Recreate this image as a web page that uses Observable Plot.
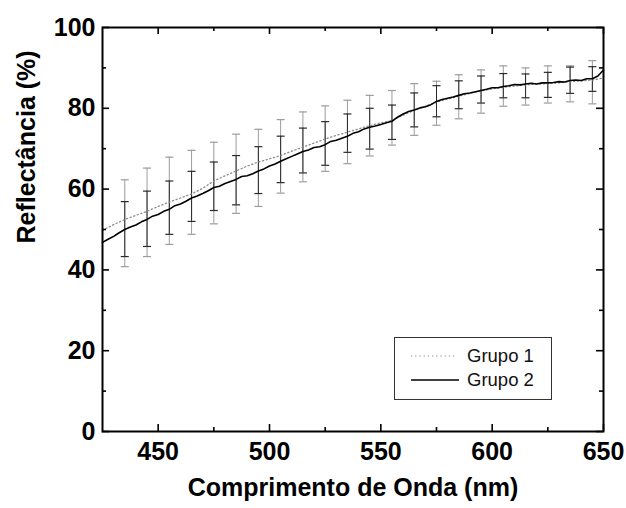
<!DOCTYPE html>
<html>
<head>
<meta charset="utf-8">
<script src="https://cdn.jsdelivr.net/npm/d3@7"></script>
<script src="https://cdn.jsdelivr.net/npm/@observablehq/plot@0.6"></script>
<style>
  html, body { margin: 0; padding: 0; background: #fff; }
  #wrap { position: relative; width: 626px; height: 508px; font-family: "Liberation Sans", Arial, sans-serif; }
  #legend { position: absolute; left: 394px; top: 337px; width: 158px; height: 63px; border: 1px solid #333; background: #fff; box-sizing: border-box; }
  .row { position: absolute; left: 0; height: 20px; display: flex; align-items: center; }
  .row span { font-size: 18.5px; color: #111; line-height: 20px; }
</style>
</head>
<body>
<div id="wrap">
  <div id="chart"></div>
  <div id="legend">
    <div class="row" style="top:8px;"><svg width="72" height="20"><line x1="16" y1="10" x2="62" y2="10" stroke="#8a8a8a" stroke-width="1.2" stroke-dasharray="1.2,3"/></svg><span>Grupo 1</span></div>
    <div class="row" style="top:32px;"><svg width="72" height="20"><line x1="16" y1="10" x2="64" y2="10" stroke="#000" stroke-width="1.4"/></svg><span>Grupo 2</span></div>
  </div>
</div>
<script>
// ---- Data ----
const xTitle = "Comprimento de Onda (nm)";
const yTitle = "Reflectância (%)";
const seriesNames = ["Grupo 1", "Grupo 2"];

const xMajor = [450, 500, 550, 600, 650];
const xMinor = [475, 525, 575, 625];
const yMajor = [0, 20, 40, 60, 80, 100];
const yMinor = [10, 30, 50, 70, 90];

// Grupo 2 (solid) wavelength / reflectance
const g2Wave = [425,427.5,430,432.5,435,437.5,440,442.5,445,447.5,450,452.5,455,457.5,460,462.5,465,467.5,470,472.5,475,477.5,480,482.5,485,487.5,490,492.5,495,497.5,500,502.5,505,507.5,510,512.5,515,517.5,520,522.5,525,527.5,530,532.5,535,537.5,540,542.5,545,547.5,550,552.5,555,557.5,560,562.5,565,567.5,570,572.5,575,577.5,580,582.5,585,587.5,590,592.5,595,597.5,600,602.5,605,607.5,610,612.5,615,617.5,620,622.5,625,627.5,630,632.5,635,637.5,640,642.5,645,647.5,650];
const g2Refl = [46.8,47.6,48.3,49.2,50.0,50.6,51.1,51.9,52.5,53.3,53.7,54.5,55.0,55.9,56.3,57.0,57.8,58.3,58.9,59.6,60.4,60.7,61.4,61.9,62.4,63.1,63.3,63.8,64.5,65.0,65.7,66.2,66.9,67.5,68.1,68.7,69.3,69.7,70.3,70.5,71.0,71.8,72.1,72.6,73.1,73.8,74.2,74.9,75.3,75.6,76.0,76.4,76.8,77.8,78.6,79.2,79.6,80.1,80.4,80.9,81.7,82.2,82.5,82.8,83.2,83.6,83.8,84.1,84.4,84.7,85.1,85.1,85.4,85.6,85.9,85.8,86.0,86.2,86.0,86.3,86.3,86.4,86.6,86.5,86.9,87.0,86.9,87.3,87.3,88.0,89.5];

// Grupo 1 (dotted)
const g1Wave = [425,430,435,440,445,450,455,460,465,470,475,480,485,490,495,500,505,510,515,520,525,530,535,540,545,550,555,560,565,570,575,580,585,590,595,600,605,610,615,620,625,630,635,640,645,650];
const g1Refl = [49.8,51.2,52.5,53.5,54.5,55.7,56.8,57.8,58.8,60.2,62.0,63.3,64.5,65.7,66.7,67.5,68.3,69.4,70.4,71.4,72.4,73.3,74.1,74.9,75.7,76.4,77.0,78.3,79.5,80.5,81.5,82.3,83.0,83.7,84.3,84.8,85.2,85.5,85.8,86.0,86.1,86.3,86.6,86.8,87.0,87.5];

// Error bars
const errWave = [435,445,455,465,475,485,495,505,515,525,535,545,555,565,575,585,595,605,615,625,635,645];
const g1Low  = [40.8,43.3,46.3,48.8,51.4,54.0,55.7,59.0,61.8,64.4,66.3,68.2,70.9,73.3,75.8,77.4,78.8,80.5,80.8,81.3,81.6,81.1];
const g1High = [62.3,65.2,67.9,69.6,71.6,73.6,74.8,77.2,79.1,80.6,82.0,83.2,84.4,86.1,86.7,88.3,89.5,90.5,90.0,90.5,90.5,91.8];
const g2Low  = [43.3,45.8,48.8,52.0,54.7,56.1,58.9,61.6,64.0,65.9,69.1,69.9,72.3,75.4,77.9,79.9,81.3,82.6,82.6,82.7,83.7,84.2];
const g2High = [56.9,59.5,62.0,64.4,66.7,68.3,70.5,73.1,75.1,76.7,78.6,80.0,80.8,83.8,85.6,86.8,88.0,88.6,88.5,88.9,90.2,90.3];

// ---- Build tables ----
const g2 = g2Wave.map((x, i) => ({x, y: g2Refl[i]}));
const g1 = g1Wave.map((x, i) => ({x, y: g1Refl[i]}));
const err = errWave.map((x, i) => ({x, g1Low: g1Low[i], g1High: g1High[i], g2Low: g2Low[i], g2High: g2High[i]}));

const W = 626, H = 508, mL = 102, mR = 23, mT = 27, mB = 77;
const plotW = W - mL - mR, plotH = H - mT - mB;
const capHalf = 1.8; // nm
const grayC = "#9c9c9c", darkC = "#2a2a2a";

function bars(lowKey, highKey, color, sw) {
  return [
    Plot.ruleX(err, {x: "x", y1: lowKey, y2: highKey, stroke: color, strokeWidth: sw}),
    Plot.link(err, {x1: d => d.x - capHalf, x2: d => d.x + capHalf, y1: highKey, y2: highKey, stroke: color, strokeWidth: 1.2}),
    Plot.link(err, {x1: d => d.x - capHalf, x2: d => d.x + capHalf, y1: lowKey, y2: lowKey, stroke: color, strokeWidth: 1.2})
  ];
}

const chart = Plot.plot({
  width: W, height: H,
  marginLeft: mL, marginRight: mR, marginTop: mT, marginBottom: mB,
  style: {fontFamily: "'Liberation Sans', Arial, sans-serif", fontWeight: "bold", fontSize: "25px", color: "#000", background: "#fff", overflow: "visible"},
  x: {domain: [425, 650]},
  y: {domain: [0, 100]},
  marks: [
    ...bars("g1Low", "g1High", grayC, 1),
    ...bars("g2Low", "g2High", darkC, 1),
    Plot.line(g1, {x: "x", y: "y", stroke: "#8a8a8a", strokeWidth: 1.3, strokeDasharray: "1.2,2.6"}),
    Plot.line(g2, {x: "x", y: "y", stroke: "#000", strokeWidth: 1.6}),
    // inward ticks on all four sides
    Plot.tickX(xMajor, {x: d => d, insetTop: plotH - 7, stroke: "#000", strokeWidth: 1.6}),
    Plot.tickX(xMinor, {x: d => d, insetTop: plotH - 4, stroke: "#000", strokeWidth: 1.6}),
    Plot.tickX(xMajor, {x: d => d, insetBottom: plotH - 7, stroke: "#000", strokeWidth: 1.6}),
    Plot.tickX(xMinor, {x: d => d, insetBottom: plotH - 4, stroke: "#000", strokeWidth: 1.6}),
    Plot.tickY(yMajor, {y: d => d, insetRight: plotW - 7, stroke: "#000", strokeWidth: 1.6}),
    Plot.tickY(yMinor, {y: d => d, insetRight: plotW - 4, stroke: "#000", strokeWidth: 1.6}),
    Plot.tickY(yMajor, {y: d => d, insetLeft: plotW - 7, stroke: "#000", strokeWidth: 1.6}),
    Plot.tickY(yMinor, {y: d => d, insetLeft: plotW - 4, stroke: "#000", strokeWidth: 1.6}),
    Plot.frame({stroke: "#000", strokeWidth: 2}),
    Plot.axisX(xMajor, {tickSize: 0, tickPadding: 11, label: null, fontSize: 25, fontWeight: "bold"}),
    Plot.axisY(yMajor, {tickSize: 0, tickPadding: 7, label: null, fontSize: 25, fontWeight: "bold"}),
    Plot.text([xTitle], {text: d => d, frameAnchor: "bottom", dy: 64, fontSize: 25, fontWeight: "bold", fill: "#000"}),
    Plot.text([yTitle], {text: d => d, frameAnchor: "left", dx: -76, dy: 14, rotate: -90, fontSize: 25, fontWeight: "bold", fill: "#000"})
  ]
});
document.getElementById("chart").appendChild(chart);
</script>
</body>
</html>
